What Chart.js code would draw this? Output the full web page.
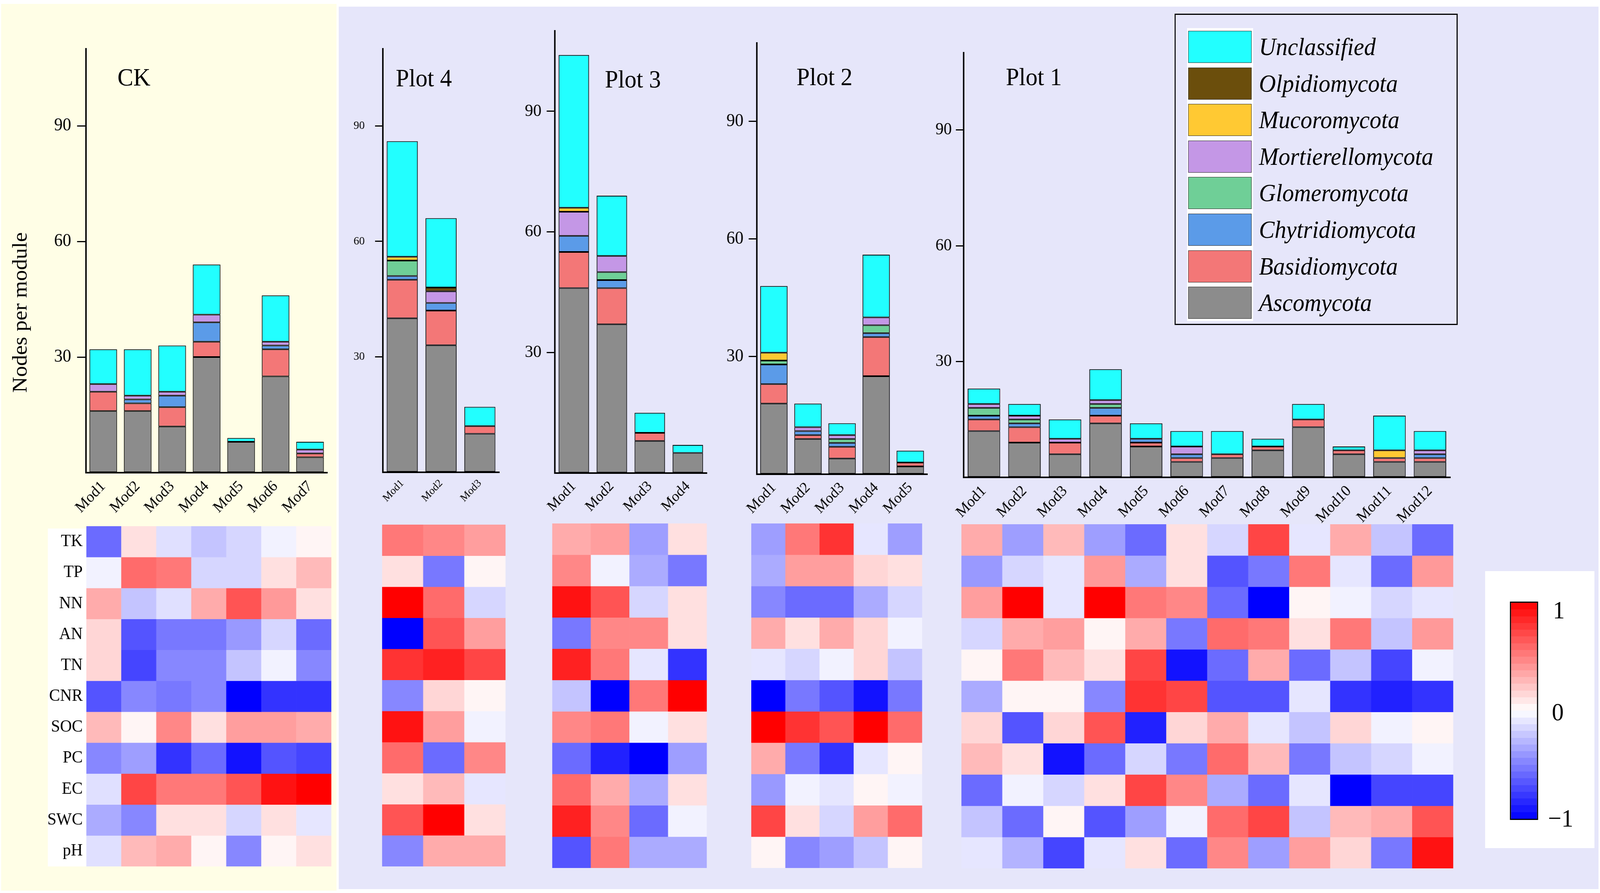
<!DOCTYPE html>
<html>
<head>
<meta charset="utf-8">
<script src="https://cdn.jsdelivr.net/npm/chart.js@4.4.1/dist/chart.umd.min.js"></script>
<style>
  html, body { margin: 0; padding: 0; overflow: hidden; background: #fff; }
  #page { position: absolute; left: 0; top: 0; width: 4317px; height: 2286px; overflow: hidden; transform-origin: 0 0;
          font-family: "Liberation Serif", "DejaVu Serif", serif; color: #000; background: #fff; }
  canvas, .box, .txt { position: absolute; }
  .txt { white-space: nowrap; line-height: 1; }
</style>
</head>
<body>
<div id="page"></div>
<script>
// ---- data ----
const phyla = ['Ascomycota', 'Basidiomycota', 'Chytridiomycota', 'Glomeromycota',
               'Mortierellomycota', 'Mucoromycota', 'Olpidiomycota', 'Unclassified'];
const phylumColors = ['#8c8c8c', '#f37777', '#5b9be8', '#6fcf97', '#c497e6', '#ffc933', '#6b4e0c', '#22ffff'];

const envVars = ['TK', 'TP', 'NN', 'AN', 'TN', 'CNR', 'SOC', 'PC', 'EC', 'SWC', 'pH'];

const yTicks = [30, 60, 90];

// node counts per module, one row per phylum (same order as phyla)
const ckModules = ['Mod1', 'Mod2', 'Mod3', 'Mod4', 'Mod5', 'Mod6', 'Mod7'];
const ckCounts = [
  [16, 16, 12, 30, 8, 25, 4],
  [5, 2, 5, 4, 0, 7, 1],
  [0, 1, 3, 5, 0, 1, 0],
  [0, 0, 0, 0, 0, 0, 0],
  [2, 1, 1, 2, 0, 1, 1],
  [0, 0, 0, 0, 0, 0, 0],
  [0, 0, 0, 0, 0, 0, 0],
  [9, 12, 12, 13, 1, 12, 2]
];

const p4Modules = ['Mod1', 'Mod2', 'Mod3'];
const p4Counts = [
  [40, 33, 10],
  [10, 9, 2],
  [1, 2, 0],
  [4, 0, 0],
  [0, 3, 0],
  [1, 0, 0],
  [0, 1, 0],
  [30, 18, 5]
];

const p3Modules = ['Mod1', 'Mod2', 'Mod3', 'Mod4'];
const p3Counts = [
  [46, 37, 8, 5],
  [9, 9, 2, 0],
  [4, 2, 0, 0],
  [0, 2, 0, 0],
  [6, 4, 0, 0],
  [1, 0, 0, 0],
  [0, 0, 0, 0],
  [38, 15, 5, 2]
];

const p2Modules = ['Mod1', 'Mod2', 'Mod3', 'Mod4', 'Mod5'];
const p2Counts = [
  [18, 9, 4, 25, 2],
  [5, 1, 3, 10, 1],
  [5, 1, 1, 1, 0],
  [1, 0, 1, 2, 0],
  [0, 1, 1, 2, 0],
  [2, 0, 0, 0, 0],
  [0, 0, 0, 0, 0],
  [17, 6, 3, 16, 3]
];

const p1Modules = ['Mod1', 'Mod2', 'Mod3', 'Mod4', 'Mod5', 'Mod6', 'Mod7', 'Mod8', 'Mod9', 'Mod10', 'Mod11', 'Mod12'];
const p1Counts = [
  [12, 9, 6, 14, 8, 4, 5, 7, 13, 6, 4, 4],
  [3, 4, 3, 2, 1, 1, 1, 1, 2, 1, 1, 1],
  [1, 1, 0, 2, 1, 1, 0, 0, 0, 0, 0, 1],
  [2, 1, 0, 1, 0, 0, 0, 0, 0, 0, 0, 0],
  [1, 1, 1, 1, 0, 2, 0, 0, 0, 0, 0, 1],
  [0, 0, 0, 0, 0, 0, 0, 0, 0, 0, 2, 0],
  [0, 0, 0, 0, 0, 0, 0, 0, 0, 0, 0, 0],
  [4, 3, 5, 8, 4, 4, 6, 2, 4, 1, 9, 5]
];

// correlations, one row per environmental variable (same order as envVars)
const ckCorr = [
  [-0.58, 0.12, -0.12, -0.23, -0.16, -0.05, 0.04],
  [-0.05, 0.58, 0.53, -0.16, -0.16, 0.12, 0.27],
  [0.33, -0.23, -0.12, 0.33, 0.67, 0.40, 0.12],
  [0.16, -0.67, -0.53, -0.53, -0.40, -0.16, -0.58],
  [0.16, -0.73, -0.47, -0.47, -0.23, -0.05, -0.47],
  [-0.67, -0.47, -0.53, -0.47, -1.00, -0.80, -0.80],
  [0.27, 0.04, 0.47, 0.12, 0.38, 0.38, 0.33],
  [-0.47, -0.38, -0.80, -0.58, -0.93, -0.67, -0.73],
  [-0.12, 0.73, 0.53, 0.53, 0.67, 0.93, 1.00],
  [-0.33, -0.47, 0.12, 0.12, -0.16, 0.12, -0.10],
  [-0.12, 0.27, 0.33, 0.04, -0.47, 0.04, 0.12]
];

const p4Corr = [
  [0.53, 0.47, 0.38],
  [0.12, -0.53, 0.04],
  [1.00, 0.58, -0.16],
  [-1.00, 0.67, 0.38],
  [0.80, 0.87, 0.73],
  [-0.47, 0.16, 0.04],
  [0.93, 0.38, -0.05],
  [0.58, -0.58, 0.47],
  [0.12, 0.27, -0.10],
  [0.67, 1.00, 0.12],
  [-0.47, 0.33, 0.33]
];

const p3Corr = [
  [0.33, 0.38, -0.38, 0.12],
  [0.47, -0.05, -0.33, -0.53],
  [0.93, 0.67, -0.16, 0.12],
  [-0.53, 0.47, 0.47, 0.12],
  [0.87, 0.53, -0.10, -0.80],
  [-0.23, -1.00, 0.53, 1.00],
  [0.47, 0.53, -0.05, 0.12],
  [-0.58, -0.87, -1.00, -0.38],
  [0.58, 0.33, -0.33, 0.12],
  [0.87, 0.47, -0.58, -0.05],
  [-0.67, 0.53, -0.33, -0.33]
];

const p2Corr = [
  [-0.38, 0.53, 0.80, -0.10, -0.38],
  [-0.33, 0.38, 0.38, 0.16, 0.12],
  [-0.47, -0.58, -0.58, -0.33, -0.16],
  [0.33, 0.12, 0.33, 0.16, -0.05],
  [-0.10, -0.16, -0.05, 0.16, -0.23],
  [-1.00, -0.53, -0.67, -0.93, -0.53],
  [1.00, 0.80, 0.67, 1.00, 0.58],
  [0.33, -0.53, -0.80, -0.10, 0.04],
  [-0.40, -0.05, -0.10, 0.04, -0.05],
  [0.73, 0.12, -0.16, 0.38, 0.58],
  [0.04, -0.47, -0.38, -0.23, 0.04]
];

const p1Corr = [
  [0.33, -0.38, 0.27, -0.38, -0.58, 0.12, -0.16, 0.73, -0.10, 0.33, -0.23, -0.58],
  [-0.40, -0.16, -0.10, 0.40, -0.33, 0.12, -0.67, -0.53, 0.53, -0.10, -0.58, 0.40],
  [0.38, 1.00, -0.10, 1.00, 0.53, 0.47, -0.58, -1.00, 0.04, -0.05, -0.16, -0.10],
  [-0.16, 0.33, 0.38, 0.04, 0.33, -0.53, 0.58, 0.53, 0.12, 0.53, -0.23, 0.40],
  [0.04, 0.53, 0.27, 0.12, 0.73, -0.93, -0.58, 0.33, -0.58, -0.23, -0.73, -0.05],
  [-0.33, 0.04, 0.04, -0.47, 0.80, 0.73, -0.67, -0.67, -0.10, -0.80, -0.87, -0.80],
  [0.16, -0.67, 0.16, 0.67, -0.87, 0.16, 0.33, -0.10, -0.23, 0.16, -0.05, 0.04],
  [0.27, 0.12, -0.93, -0.58, -0.16, -0.53, 0.58, 0.27, -0.53, -0.23, -0.16, -0.05],
  [-0.58, -0.05, -0.16, 0.12, 0.73, 0.47, -0.33, -0.58, -0.10, -1.00, -0.73, -0.73],
  [-0.23, -0.58, 0.04, -0.67, -0.38, -0.05, 0.58, 0.73, -0.23, 0.27, 0.33, 0.67],
  [-0.10, -0.30, -0.73, -0.10, 0.12, -0.58, 0.47, -0.38, 0.38, 0.16, -0.53, 0.93]
];

// ---- layout ----
const serif = '"Liberation Serif", "DejaVu Serif", serif';
const page = document.getElementById('page');

// the figure is laid out on a 4317 x 2286 sheet; stretch it over the viewport that is actually there
const sx = (document.documentElement.clientWidth || window.innerWidth) / 4317 || 1;
const sy = (document.documentElement.clientHeight || window.innerHeight) / 2286 || 1;
page.style.transform = `scale(${sx}, ${sy})`;

const barPanels = [
  { title: 'CK',     modules: ckModules, counts: ckCounts, left: 232,  right: 883,  top: 125, bottom: 1210, yFont: 46, xFont: 40, tickLen: 24, yPad: 16, tx: 317,  tb: 220 },
  { title: 'Plot 4', modules: p4Modules, counts: p4Counts, left: 1033, right: 1347, top: 125, bottom: 1209, yFont: 30, xFont: 28, tickLen: 21, yPad: 28, tx: 1068, tb: 222 },
  { title: 'Plot 3', modules: p3Modules, counts: p3Counts, left: 1497, right: 1907, top: 79,  bottom: 1211, yFont: 45, xFont: 38, tickLen: 22, yPad: 14, tx: 1632, tb: 225 },
  { title: 'Plot 2', modules: p2Modules, counts: p2Counts, left: 2042, right: 2502, top: 110, bottom: 1214, yFont: 46, xFont: 39, tickLen: 22, yPad: 14, tx: 2149, tb: 219 },
  { title: 'Plot 1', modules: p1Modules, counts: p1Counts, left: 2600, right: 3913, top: 135, bottom: 1222, yFont: 44, xFont: 40, tickLen: 21, yPad: 11, tx: 2714, tb: 219 }
];

const heatPanels = [
  { modules: ckModules, corr: ckCorr, left: 233,  right: 894,  top: 1347, bottom: 2218, labels: true },
  { modules: p4Modules, corr: p4Corr, left: 1031, right: 1364, top: 1343, bottom: 2218 },
  { modules: p3Modules, corr: p3Corr, left: 1490, right: 1907, top: 1340, bottom: 2222 },
  { modules: p2Modules, corr: p2Corr, left: 2027, right: 2488, top: 1340, bottom: 2222 },
  { modules: p1Modules, corr: p1Corr, left: 2594, right: 3921, top: 1342, bottom: 2223 }
];

function addBox(left, top, width, height, style) {
  const d = document.createElement('div');
  d.className = 'box';
  Object.assign(d.style, { left: left + 'px', top: top + 'px', width: width + 'px', height: height + 'px' }, style || {});
  page.appendChild(d);
  return d;
}

function addText(str, left, top, size, style) {
  const d = document.createElement('div');
  d.className = 'txt';
  d.textContent = str;
  Object.assign(d.style, { left: left + 'px', top: top + 'px', fontSize: size + 'px' }, style || {});
  page.appendChild(d);
  return d;
}

function addCanvas(left, top, width, height) {
  const c = document.createElement('canvas');
  c.width = width;
  c.height = height;
  c.style.left = left + 'px';
  c.style.top = top + 'px';
  c.style.width = width + 'px';
  c.style.height = height + 'px';
  page.appendChild(c);
  return c;
}

function corrColor(v) {
  const t = Math.round(255 * (1 - Math.min(1, Math.abs(v))));
  return v >= 0 ? `rgb(255,${t},${t})` : `rgb(${t},${t},255)`;
}

// keep the plot area exactly where the layout puts it (no room reserved for half label heights)
function fixY(width) {
  return s => { s.width = width; s.paddingTop = 0; s.paddingBottom = 0; };
}

// backgrounds
addBox(3, 10, 905, 2270, { background: '#fffee6' });
addBox(914, 17, 3399, 2259, { background: '#e6e6fa' });

// stacked bar panels
barPanels.forEach(p => {
  const padL = 100, padR = 10, padT = 10, padB = 130;
  const c = addCanvas(p.left - padL, p.top - padT, p.right - p.left + padL + padR, p.bottom - p.top + padT + padB);
  new Chart(c, {
    type: 'bar',
    data: {
      labels: p.modules,
      datasets: phyla.map((name, i) => ({
        label: name,
        data: p.counts[i],
        backgroundColor: phylumColors[i],
        borderColor: '#000',
        borderWidth: 2,
        borderSkipped: false,
        barPercentage: 0.8,
        categoryPercentage: 1
      }))
    },
    options: {
      responsive: false,
      animation: false,
      layout: { padding: { top: padT, right: padR, left: 0, bottom: 0 } },
      plugins: { legend: { display: false }, tooltip: { enabled: false } },
      scales: {
        x: {
          stacked: true,
          grid: { display: false, drawTicks: false },
          border: { color: '#000', width: 4 },
          ticks: { color: '#000', font: { family: serif, size: p.xFont }, minRotation: 45, maxRotation: 45, autoSkip: false, padding: 12 },
          afterFit: s => { s.height = padB; }
        },
        y: {
          stacked: true,
          min: 0,
          max: 110,
          afterBuildTicks: s => { s.ticks = [0].concat(yTicks).map(v => ({ value: v })); },
          ticks: { color: '#000', font: { family: serif, size: p.yFont }, padding: p.yPad, callback: v => (v === 0 ? '' : v) },
          grid: {
            drawOnChartArea: false,
            tickLength: p.tickLen,
            lineWidth: 3,
            color: ctx => (ctx.tick && ctx.tick.value === 0 ? 'rgba(0,0,0,0)' : '#000')
          },
          border: { color: '#000', width: 4 },
          afterFit: fixY(padL)
        }
      }
    }
  });
  addText(p.title, p.tx, p.tb - 54, 64);
});

// y axis title
addText('Nodes per module', 53, 800, 56, { transform: 'translate(-50%,-50%) rotate(-90deg)' });

// white strip behind the row labels of the first heatmap
addBox(129, 1353, 104, 865, { background: '#fff' });

// heatmaps (one stack of unit cells per variable row)
heatPanels.forEach(p => {
  const labelW = p.labels ? 104 : 0;
  const c = addCanvas(p.left - labelW, p.top, p.right - p.left + labelW, p.bottom - p.top);
  new Chart(c, {
    type: 'bar',
    data: {
      labels: p.modules,
      datasets: envVars.map((name, r) => ({
        label: name,
        data: p.modules.map(() => 1),
        backgroundColor: p.corr[r].map(corrColor),
        borderWidth: 0,
        barPercentage: 1,
        categoryPercentage: 1
      }))
    },
    options: {
      responsive: false,
      animation: false,
      layout: { padding: 0 },
      plugins: { legend: { display: false }, tooltip: { enabled: false } },
      scales: {
        x: { stacked: true, display: false },
        y: {
          stacked: true,
          reverse: true,
          min: 0,
          max: envVars.length,
          display: !!p.labels,
          afterBuildTicks: s => { s.ticks = envVars.map((v, i) => ({ value: i + 0.5 })); },
          ticks: { color: '#000', font: { family: serif, size: 44 }, padding: 10, callback: (v, i) => envVars[i] },
          grid: { display: false, drawTicks: false },
          border: { display: false },
          afterFit: fixY(labelW)
        }
      }
    }
  });
});

// phylum legend
addBox(3169, 35, 764, 797, { border: '3px solid #000', boxSizing: 'border-box' });
addBox(3203, 72, 178, 750, { background: '#fff' });
phyla.slice().reverse().forEach((name, k) => {
  const color = phylumColors[phyla.length - 1 - k];
  const top = 79 + k * 93.6;
  addBox(3206, top, 171, 82, { background: color, border: '1.5px solid #222', boxSizing: 'border-box' });
  addText(name, 3397, top + 41, 63, { fontStyle: 'italic', transform: 'translateY(-50%)' });
});

// colour bar
addBox(4007, 1462, 295, 709, { background: '#fff' });
const steps = [];
const nSteps = 32;
for (let k = 0; k < nSteps; k++) {
  const v = 1 - (2 * (k + 0.5)) / nSteps;
  steps.push(`${corrColor(v)} ${(k * 100 / nSteps).toFixed(3)}%`, `${corrColor(v)} ${((k + 1) * 100 / nSteps).toFixed(3)}%`);
}
addBox(4074, 1540, 76, 559, { border: '3px solid #000', boxSizing: 'border-box', background: `linear-gradient(to bottom, ${steps.join(', ')})` });
addText('1', 4206, 1562, 64, { transform: 'translate(-50%,-50%)' });
addText('0', 4203, 1823, 64, { transform: 'translate(-50%,-50%)' });
addText('\u22121', 4211, 2095, 64, { transform: 'translate(-50%,-50%)' });
</script>
</body>
</html>
